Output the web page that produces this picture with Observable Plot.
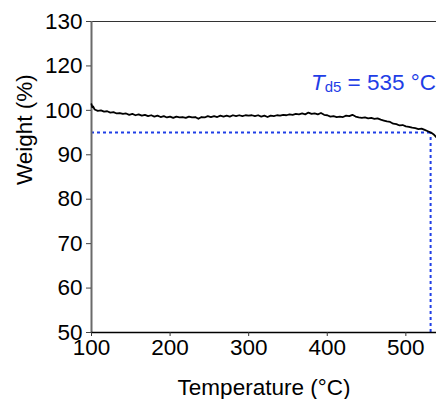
<!DOCTYPE html>
<html><head><meta charset="utf-8">
<script src="https://cdn.jsdelivr.net/npm/d3@7"></script>
<script src="https://cdn.jsdelivr.net/npm/@observablehq/plot@0.6"></script>
<style>html,body{margin:0;padding:0;background:#fff;} svg{display:block;}</style>
</head><body><div id="chart"></div>
<script>
const temperature = [100,101,102,104,108,112,116,120,124,128,132,136,140,144,148,152,156,160,164,168,172,176,180,184,188,192,196,200,204,208,212,216,220,224,228,232,236,240,244,248,252,256,260,264,268,272,276,280,284,288,292,296,300,304,308,312,316,320,324,328,332,336,340,344,348,352,356,360,364,368,372,376,380,384,388,392,396,400,404,408,412,416,420,424,428,432,436,440,444,448,452,456,460,464,468,472,476,480,484,488,492,496,500,504,508,512,516,520,524,528,532,536,539];
const weight = [101.4,100.7,100.9,100.2,99.9,100.0,99.7,99.8,99.5,99.6,99.3,99.4,99.2,99.3,99.0,99.2,98.9,99.1,98.8,99.0,98.7,98.9,98.6,98.8,98.5,98.7,98.4,98.6,98.3,98.6,98.4,98.5,98.3,98.6,98.4,98.5,98.1,98.5,98.4,98.7,98.5,98.7,98.5,98.8,98.6,98.8,98.6,98.9,98.7,98.9,98.7,98.9,98.8,98.9,98.7,98.9,98.6,98.8,98.5,98.8,98.7,98.9,98.8,99.0,98.9,99.1,99.0,99.2,99.1,99.3,99.1,99.5,99.2,99.3,99.1,99.4,99.0,98.9,98.6,98.7,98.5,98.6,98.5,98.8,98.7,99.0,98.6,98.4,98.3,98.4,98.2,98.3,98.1,98.2,97.9,97.7,97.5,97.4,97.0,96.9,96.6,96.7,96.4,96.3,96.1,96.0,95.8,95.9,95.6,95.3,95.0,94.5,93.9];

const xDomain = [100, 539];
const yDomain = [50, 120];
const xTickValues = [100, 200, 300, 400, 500];
const yTickValues = [50, 60, 70, 80, 90, 100, 110, 120];
const yTickLabels = ["50", "60", "70", "80", "90", "100", "120", "130"];
const xLabel = "Temperature (°C)";
const yLabel = "Weight (%)";
const td5Temp = 531.5;
const td5Weight = 95;
const annSymbol = "T";
const annSub = "d5";
const annRest = " = 535 °C";
const annPos = {x: 539, y: 104.5};

const rows = temperature.map((t, i) => ({t, w: weight[i]}));
const blue = "#1f3ee6";
const font = "'Liberation Sans', Arial, Helvetica, sans-serif";

const chart = Plot.plot({
  width: 436, height: 399,
  marginLeft: 91, marginRight: 0, marginTop: 21, marginBottom: 67,
  style: {fontFamily: font, fontSize: "22.5px", color: "#000", background: "#fff", overflow: "visible"},
  x: {domain: xDomain},
  y: {domain: yDomain},
  marks: [
    Plot.ruleY([{y: td5Weight, x1: xDomain[0], x2: td5Temp}], {y: "y", x1: "x1", x2: "x2", stroke: blue, strokeWidth: 2, strokeDasharray: "3,3"}),
    Plot.ruleX([{x: td5Temp, y1: yDomain[0], y2: td5Weight}], {x: "x", y1: "y1", y2: "y2", stroke: blue, strokeWidth: 2, strokeDasharray: "3,3"}),
    Plot.ruleY([yDomain[1]], {stroke: "#333", strokeWidth: 1}),
    Plot.ruleX([xDomain[0]], {stroke: "#6a6a6a", strokeWidth: 2}),
    Plot.ruleY([yDomain[0]], {stroke: "#000", strokeWidth: 1.5}),
    Plot.line(rows, {x: "t", y: "w", stroke: "#000", strokeWidth: 1.8}),
    Plot.axisX({ticks: xTickValues, tickSize: 4, tickPadding: 3, label: null, stroke: "#333", fontSize: 22.5}),
    Plot.axisY({ticks: yTickValues, tickFormat: d => yTickLabels[yTickValues.indexOf(d)], tickSize: 5, tickPadding: 4, label: null, stroke: "#444", fontSize: 22.5}),
    Plot.text([xLabel], {frameAnchor: "bottom", dy: 54.8, lineAnchor: "middle", fontSize: 22.5, fill: "#000"}),
    Plot.text([yLabel], {frameAnchor: "left", rotate: -90, dx: -66.5, dy: 8, lineAnchor: "middle", fontSize: 22.5, fill: "#000"})
  ]
});

const xs = chart.scale("x"), ys = chart.scale("y");
const ann = d3.select(chart).append("text")
  .attr("x", xs.apply(annPos.x))
  .attr("y", ys.apply(annPos.y))
  .attr("text-anchor", "end")
  .attr("fill", blue)
  .attr("font-family", font)
  .attr("font-size", 22.5);
ann.append("tspan").attr("font-style", "italic").text(annSymbol);
ann.append("tspan").attr("font-size", 15).attr("dy", 2).text(annSub);
ann.append("tspan").attr("dy", -2).text(annRest);

document.getElementById("chart").appendChild(chart);
</script>
</body></html>
